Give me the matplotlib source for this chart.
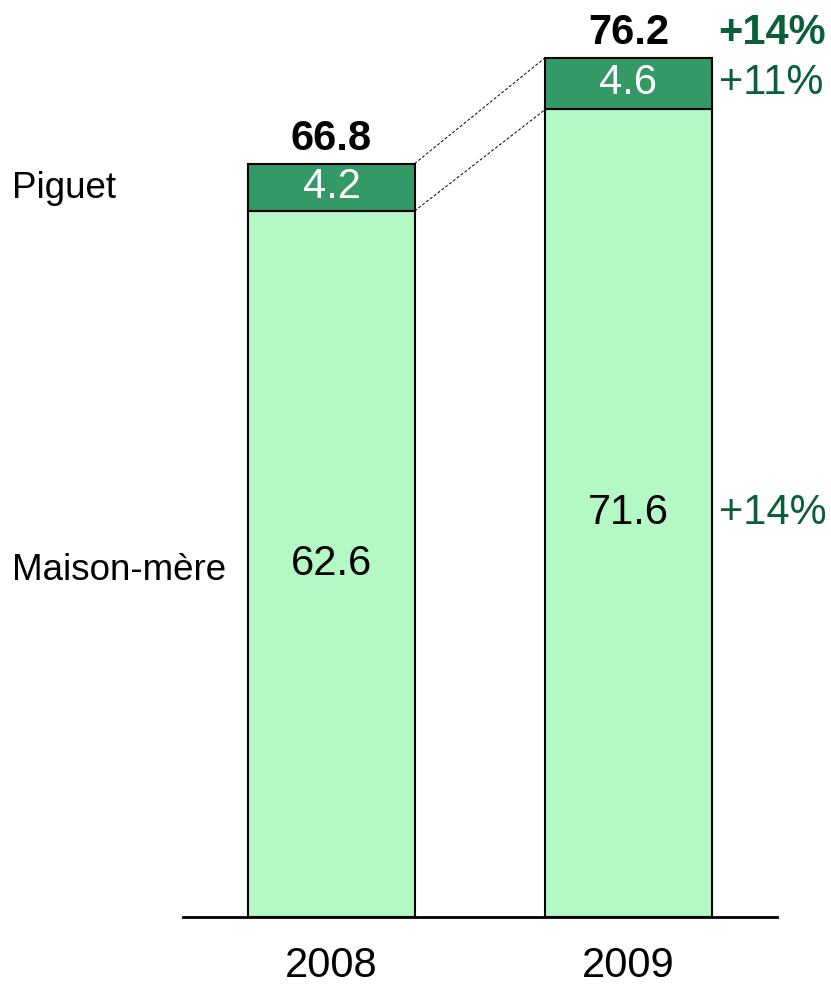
import matplotlib
matplotlib.use("Agg")
import matplotlib.pyplot as plt

plt.rcParams['font.family'] = ['Liberation Sans', 'DejaVu Sans']

years = ["2008", "2009"]
maison = [62.6, 71.6]
piguet = [4.2, 4.6]
totals = [66.8, 76.2]
growth_total = "+14%"
growth_piguet = "+11%"
growth_maison = "+14%"
series_names = ["Piguet", "Maison-mère"]

light = "#b3f8c5"
dark = "#339966"
pct_col = "#0b5e3a"

fig = plt.figure(figsize=(8.31, 9.88), dpi=100)
ax = fig.add_axes([183 / 831, 71 / 988, 594 / 831, 917 / 988])

x = [0, 1]
w = 0.56
ax.bar(x, maison, w, color=light, edgecolor="black", linewidth=1.5, zorder=2)
ax.bar(x, piguet, w, bottom=maison, color=dark, edgecolor="black", linewidth=1.5, zorder=2)

ax.set_xlim(-0.5, 1.5)
ax.set_ylim(0, 81.3)

# dashed connectors between the two bars
ax.plot([x[0] + w / 2, x[1] - w / 2], [totals[0], totals[1]], color="black",
        linestyle=(0, (3, 2)), linewidth=0.7, zorder=1)
ax.plot([x[0] + w / 2, x[1] - w / 2], [maison[0], maison[1]], color="black",
        linestyle=(0, (3, 2)), linewidth=0.7, zorder=1)

for i in range(2):
    ax.text(x[i], maison[i] / 2, f"{maison[i]}", ha="center", va="center", fontsize=30)
    ax.text(x[i], maison[i] + piguet[i] / 2, f"{piguet[i]}", ha="center", va="center",
            fontsize=30, color="white")
    ax.annotate(f"{totals[i]}", (x[i], totals[i]), xytext=(0, 9.5), textcoords="offset points",
                ha="center", va="baseline", fontsize=30, fontweight="bold")

# growth labels right of 2009 bar
xr = x[1] + w / 2
ax.annotate(growth_total, (xr, totals[1]), xytext=(5, 9.5), textcoords="offset points",
            ha="left", va="baseline", fontsize=30, fontweight="bold", color=pct_col)
ax.annotate(growth_piguet, (xr, maison[1] + piguet[1] / 2), xytext=(5, 0), textcoords="offset points",
            ha="left", va="center", fontsize=30, color=pct_col)
ax.annotate(growth_maison, (xr, maison[1] / 2), xytext=(5, 0), textcoords="offset points",
            ha="left", va="center", fontsize=30, color=pct_col)

# series names on the left
fig.text(12 / 831, 1 - 188 / 988, series_names[0], ha="left", va="center", fontsize=26.5)
fig.text(12 / 831, 1 - 570 / 988, series_names[1], ha="left", va="center", fontsize=26.5)

for s in ["top", "left", "right"]:
    ax.spines[s].set_visible(False)
ax.spines["bottom"].set_linewidth(2)
ax.set_yticks([])
ax.set_xticks(x)
ax.set_xticklabels(years, fontsize=30)
ax.tick_params(axis="x", length=0, pad=21)

fig.savefig("out.png", dpi=100)
